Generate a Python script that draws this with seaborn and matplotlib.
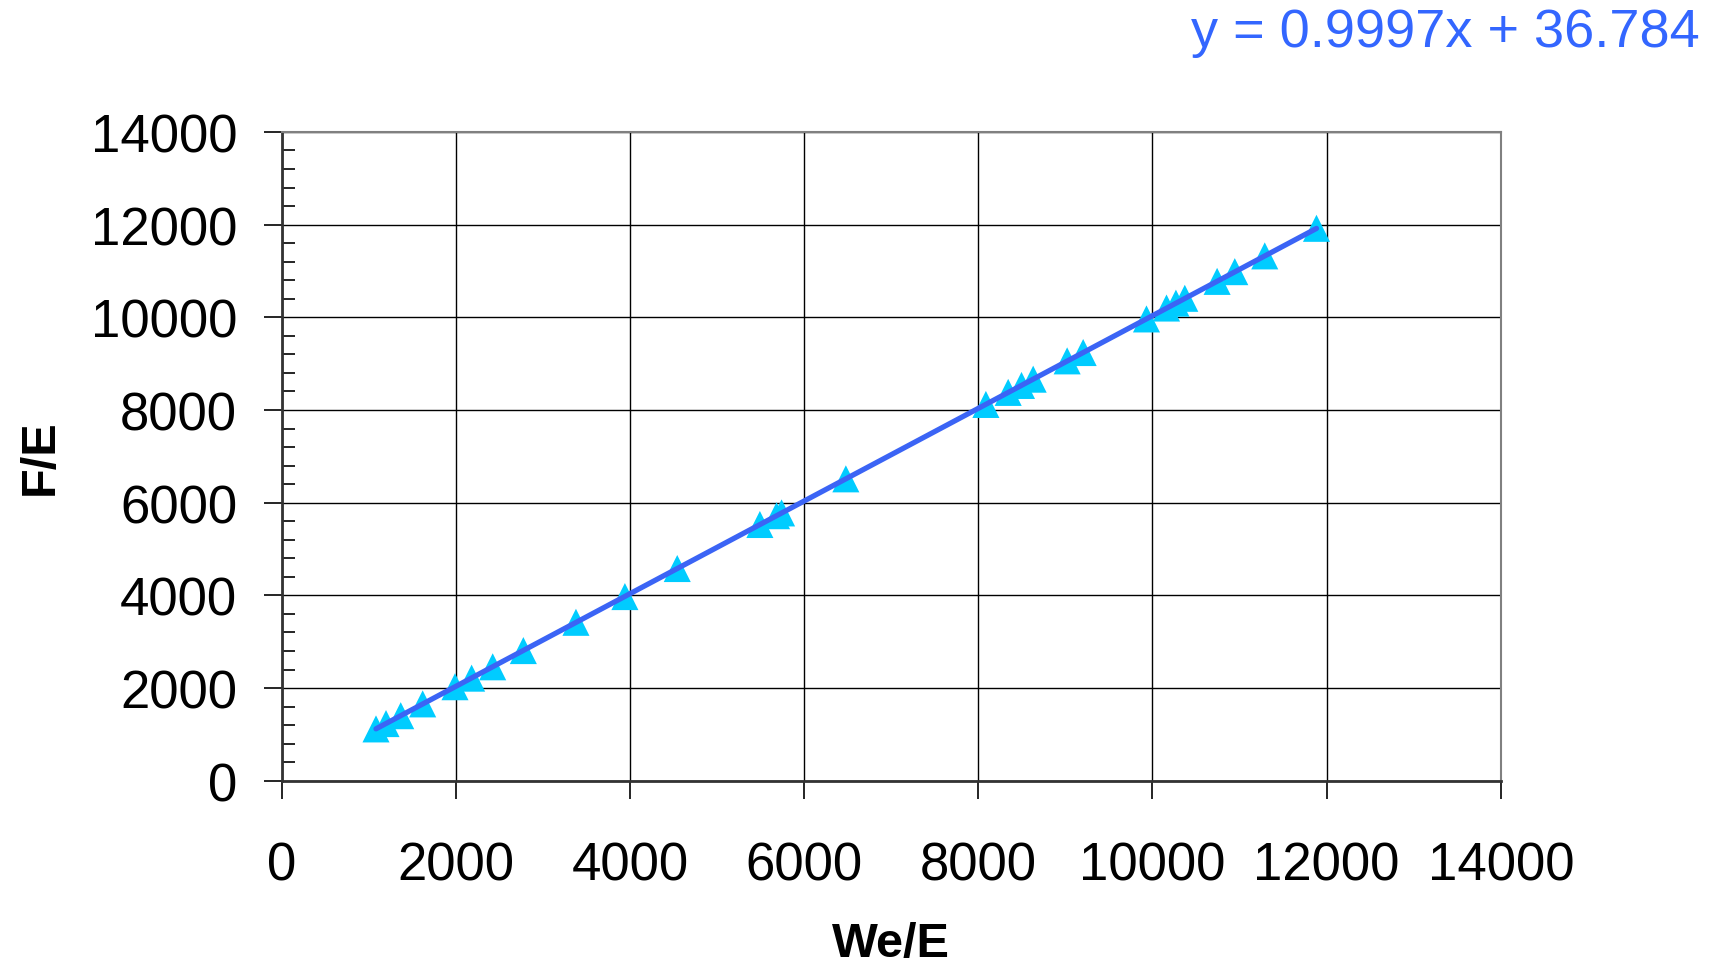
import numpy as np
import pandas as pd
import seaborn as sns
import matplotlib.pyplot as plt
from matplotlib.ticker import MultipleLocator

# values
we_e = [1085, 1200, 1369, 1621, 1992, 2183, 2425, 2777, 3381, 3943, 4544,
        5493, 5684, 5742, 6480, 8088, 8344, 8497, 8631, 9021, 9205, 9932,
        10162, 10270, 10372, 10743, 10946, 11290, 11884]
f_e = [1120, 1235, 1405, 1660, 2030, 2215, 2460, 2810, 3420, 3975, 4580,
       5530, 5720, 5780, 6515, 8120, 8380, 8530, 8665, 9060, 9240, 9965,
       10200, 10305, 10410, 10775, 10985, 11325, 11920]
slope = 0.9997
intercept = 36.784
ticks = [0, 2000, 4000, 6000, 8000, 10000, 12000, 14000]

df = pd.DataFrame({"We/E": we_e, "F/E": f_e})
fit = pd.DataFrame({"x": [min(we_e), max(we_e)]})
fit["y"] = slope * fit["x"] + intercept

sns.set_theme(style="white")
plt.rcParams['font.family'] = ['Liberation Sans', 'DejaVu Sans']
plt.rcParams['text.color'] = 'black'
plt.rcParams['axes.labelcolor'] = 'black'
plt.rcParams['xtick.color'] = 'black'
plt.rcParams['ytick.color'] = 'black'

fig = plt.figure(figsize=(17.27, 9.70), dpi=100)
ax = fig.add_axes([0.163, 0.194, 0.706, 0.669])

sns.scatterplot(data=df, x="We/E", y="F/E", marker="^", s=380,
                color="#00CCFF", edgecolor="none", ax=ax, zorder=3)
sns.lineplot(data=fit, x="x", y="y", color="#3B64F5", linewidth=3.8,
             ax=ax, zorder=4)

ax.set_xlim(0, 14000)
ax.set_ylim(0, 14000)
ax.set_xticks(ticks)
ax.set_yticks(ticks)
ax.yaxis.set_minor_locator(MultipleLocator(400))
ax.grid(True, which="major", color="black", linewidth=1.0)
ax.set_axisbelow(True)

ax.tick_params(axis="both", which="major", direction="out", length=13,
               width=1.2, color="black", labelsize=38, left=True, bottom=True)
ax.tick_params(axis="y", which="major", pad=19)
ax.tick_params(axis="x", which="major", pad=30)
ax.tick_params(axis="y", which="minor", direction="in", length=9,
               width=1.2, color="black", left=True)

for side in ["left", "bottom"]:
    ax.spines[side].set_color("#333333")
    ax.spines[side].set_linewidth(2)
for side in ["top", "right"]:
    ax.spines[side].set_color("#808080")
    ax.spines[side].set_linewidth(1.5)

ax.set_xlabel("We/E", fontsize=35, fontweight="bold", labelpad=22)
ax.set_ylabel("F/E", fontsize=35, fontweight="bold", labelpad=20)

fig.text(0.984, 0.966, f"y = {slope}x + {intercept}", color="#3366FF",
         fontsize=39, ha="right", va="center")

plt.savefig("out.png", dpi=100)
